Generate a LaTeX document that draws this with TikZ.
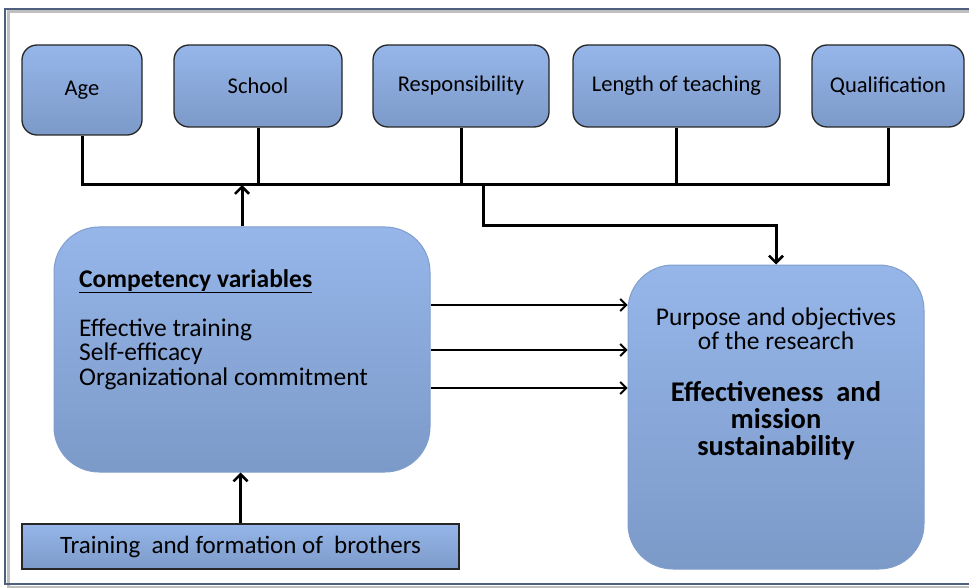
\documentclass[tikz,border=0pt]{standalone}
\usepackage{fontspec}
\setmainfont{Carlito}
\usetikzlibrary{arrows.meta}
\definecolor{boxtop}{RGB}{150,182,234}
\definecolor{boxbot}{RGB}{124,154,200}
\definecolor{softedge}{RGB}{128,158,205}
\definecolor{framecol}{RGB}{78,96,126}
\begin{document}
\begin{tikzpicture}[x=1pt,y=-1pt,
  topbox/.style={draw=black!85, line width=1.3pt, rounded corners=15pt,
    top color=boxtop, bottom color=boxbot, inner sep=0pt, minimum height=82pt,
    font=\fontsize{22.5}{24}\selectfont},
  bigbox/.style={draw=softedge, line width=1pt, rounded corners=45pt,
    top color=boxtop, bottom color=boxbot, inner sep=0pt},
  plainbox/.style={draw=black!85, line width=1.3pt,
    top color=boxtop, bottom color=boxbot, inner sep=0pt},
  bus/.style={line width=3pt, line cap=butt},
  uparrow/.style={line width=3pt, -{Straight Barb[length=7pt,width=14pt,line width=2.5pt]}},
  thinarrow/.style={line width=2pt, -{Straight Barb[length=6pt,width=12pt,line width=1.8pt]}},
  txt/.style={inner sep=0pt, font=\fontsize{25.5}{25.5}\selectfont},
  btxt/.style={inner sep=0pt, font=\fontsize{28.5}{28.5}\selectfont\bfseries}
]
\useasboundingbox (0,0) rectangle (969,588);
% outer frame
\draw[black!25, line width=3pt] (8,12) rectangle (985,587);
\draw[framecol, line width=2.8pt] (5,9) rectangle (982,584);

% top boxes
\node[topbox, minimum width=120pt, minimum height=90pt] (age) at (82,90) {Age};
\node[topbox, minimum width=168pt] (school) at (258,86) {School};
\node[topbox, minimum width=176pt] (resp) at (461,86) {Responsibility};
\node[topbox, minimum width=207pt] (length) at (676.5,86) {Length of teaching};
\node[topbox, minimum width=152pt] (qual) at (888,86) {Qualification};

% big boxes
\node[bigbox, minimum width=376pt, minimum height=245pt] (comp) at (242,349.5) {};
\node[bigbox, minimum width=296pt, minimum height=304pt] (purp) at (776,417) {};
\node[plainbox, minimum width=437pt, minimum height=45pt, font=\fontsize{25}{25}\selectfont] (train) at (240.5,546.5) {Training\ \ and formation of\ \ brothers};

% texts in left box
\node[txt, anchor=base west, font=\fontsize{25.5}{25.5}\selectfont\bfseries] (t1) at (79,287) {\underline{Competency variables}};
\node[txt, anchor=base west] (t2) at (79,336) {Effective training};
\node[txt, anchor=base west] (t3) at (79,360.5) {Self-efficacy};
\node[txt, anchor=base west] (t4) at (79,385) {Organizational commitment};

% texts in right box
\node[txt, anchor=base] (p1) at (776,325) {Purpose and objectives};
\node[txt, anchor=base] (p2) at (776,349) {of the research};
\node[btxt, anchor=base] (p3) at (776,401) {Effectiveness\ \ and};
\node[btxt, anchor=base] (p4) at (776,428) {mission};
\node[btxt, anchor=base] (p5) at (776,455) {sustainability};

% bus
\coordinate (busR) at (888,185);
\coordinate (br) at (483,185);
\coordinate (bend) at (483,226);
\draw[bus] (age.south) |- (busR) -- (qual.south);
\draw[bus] (school.south) -- (school.south |- busR);
\draw[bus] (resp.south) -- (resp.south |- busR);
\draw[bus] (length.south) -- (length.south |- busR);

% arrows
\draw[uparrow] (comp.north) -- (comp.north |- busR);
\draw[uparrow] (br) -- (bend) -| (purp.north);
\draw[uparrow] (train.north) -- (train.north |- comp.south);

\coordinate (r1) at (0,305);
\coordinate (r2) at (0,350);
\coordinate (r3) at (0,388);
\draw[thinarrow] (comp.east |- r1) -- (purp.west |- r1);
\draw[thinarrow] (comp.east |- r2) -- (purp.west |- r2);
\draw[thinarrow] (comp.east |- r3) -- (purp.west |- r3);
\end{tikzpicture}
\end{document}
